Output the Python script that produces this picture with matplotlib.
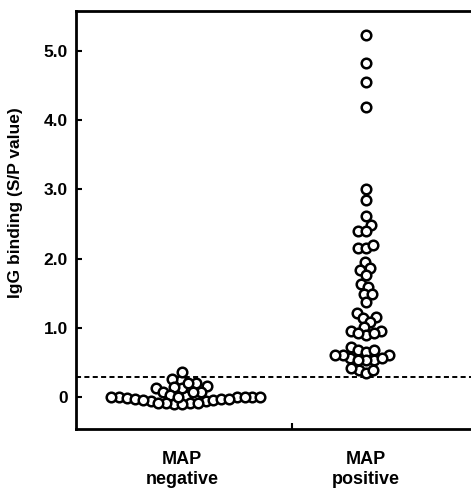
import numpy as np
import matplotlib.pyplot as plt

plt.rcParams['font.family'] = ['Liberation Sans', 'DejaVu Sans']
plt.rcParams['font.weight'] = 'bold'

# data
groups = ['MAP\nnegative', 'MAP\npositive']
neg_vals = [0.00, 0.00, -0.01, -0.03, 0.02, -0.06, 0.16, -0.04, 0.08, -0.06,
            0.25, 0.13, 0.01, -0.08, 0.37, 0.21, 0.08, -0.09, 0.26, 0.13,
            0.01, -0.08, 0.15, 0.03, -0.09, 0.20, 0.01, 0.07, -0.04, 0.00,
            -0.08, 0.01, -0.08, -0.03, -0.03]
pos_vals = [5.22, 4.82, 4.55, 4.18, 3.00, 2.85, 2.62, 2.49, 2.40, 2.40,
            2.15, 2.15, 2.19, 1.95, 1.86, 1.84, 1.76, 1.64, 1.59, 1.49,
            1.49, 1.38, 1.16, 1.21, 1.14, 1.08, 1.01, 0.95, 0.95, 0.90,
            0.92, 0.92, 0.72, 0.68, 0.66, 0.68, 0.61, 0.56, 0.54, 0.54,
            0.54, 0.56, 0.61, 0.61, 0.39, 0.35, 0.39, 0.42]
cutoff = 0.29
yticks = [0, 1, 2, 3, 4, 5]
yticklabels = ['0', '1.0', '2.0', '3.0', '4.0', '5.0']


def swarm_offsets(vals, d, ypx):
    # simple beeswarm in pixel space, d = gap between centres
    ys = np.asarray(vals) * ypx
    xs = np.zeros(len(vals))
    placed = []
    for i in np.argsort(vals):
        y = ys[i]
        near = [(px, py) for px, py in placed if abs(py - y) < d]
        cands = [0.0]
        for px, py in near:
            dx = np.sqrt(d ** 2 - (py - y) ** 2)
            cands += [px - dx, px + dx]
        cands.sort(key=abs)
        for c in cands:
            if all((c - px) ** 2 + (y - py) ** 2 >= d ** 2 - 1e-6 for px, py in near):
                xs[i] = c
                break
        placed.append((xs[i], y))
    return xs


fig = plt.figure(figsize=(4.71, 4.9), dpi=100)
ax = fig.add_axes([76 / 471, 61 / 490, 1 - 76 / 471, 418 / 490])
ax.set_xlim(0.424, 2.571)
ax.set_ylim(-0.457, 5.57)

# pixel scale of the data axes
p0, p1 = ax.transData.transform([[0, 0], [1, 1]])
xpx, ypx = p1 - p0

ax.axhline(cutoff, color='black', lw=1.4, ls=(0, (2.6, 1.7)), zorder=1)

for pos, vals in zip([1, 2], [neg_vals, pos_vals]):
    off = swarm_offsets(vals, 7.9, ypx) / xpx
    ax.plot(pos + off, vals, 'o', ms=6.9, mew=1.8, mfc='white', mec='black',
            ls='none', zorder=3, clip_on=False)

for s in ['left', 'bottom', 'top']:
    ax.spines[s].set_linewidth(2)
ax.spines['right'].set_visible(False)

ax.set_yticks(yticks)
ax.set_yticklabels(yticklabels, fontsize=12.5, fontweight='bold')
ax.tick_params(axis='y', direction='in', length=4, width=1.5, pad=6)

ax.set_xticks([1, 2])
ax.set_xticklabels(groups, fontsize=13, fontweight='bold', linespacing=1.25)
ax.tick_params(axis='x', which='major', length=0, pad=16)
ax.set_xticks([1.596], minor=True)
ax.tick_params(axis='x', which='minor', direction='in', length=4, width=1.5)

ax.set_ylabel('IgG binding (S/P value)', fontsize=12.5, fontweight='bold')
ax.yaxis.set_label_coords(-0.134, 0.541)

fig.savefig('out.png', dpi=100)
